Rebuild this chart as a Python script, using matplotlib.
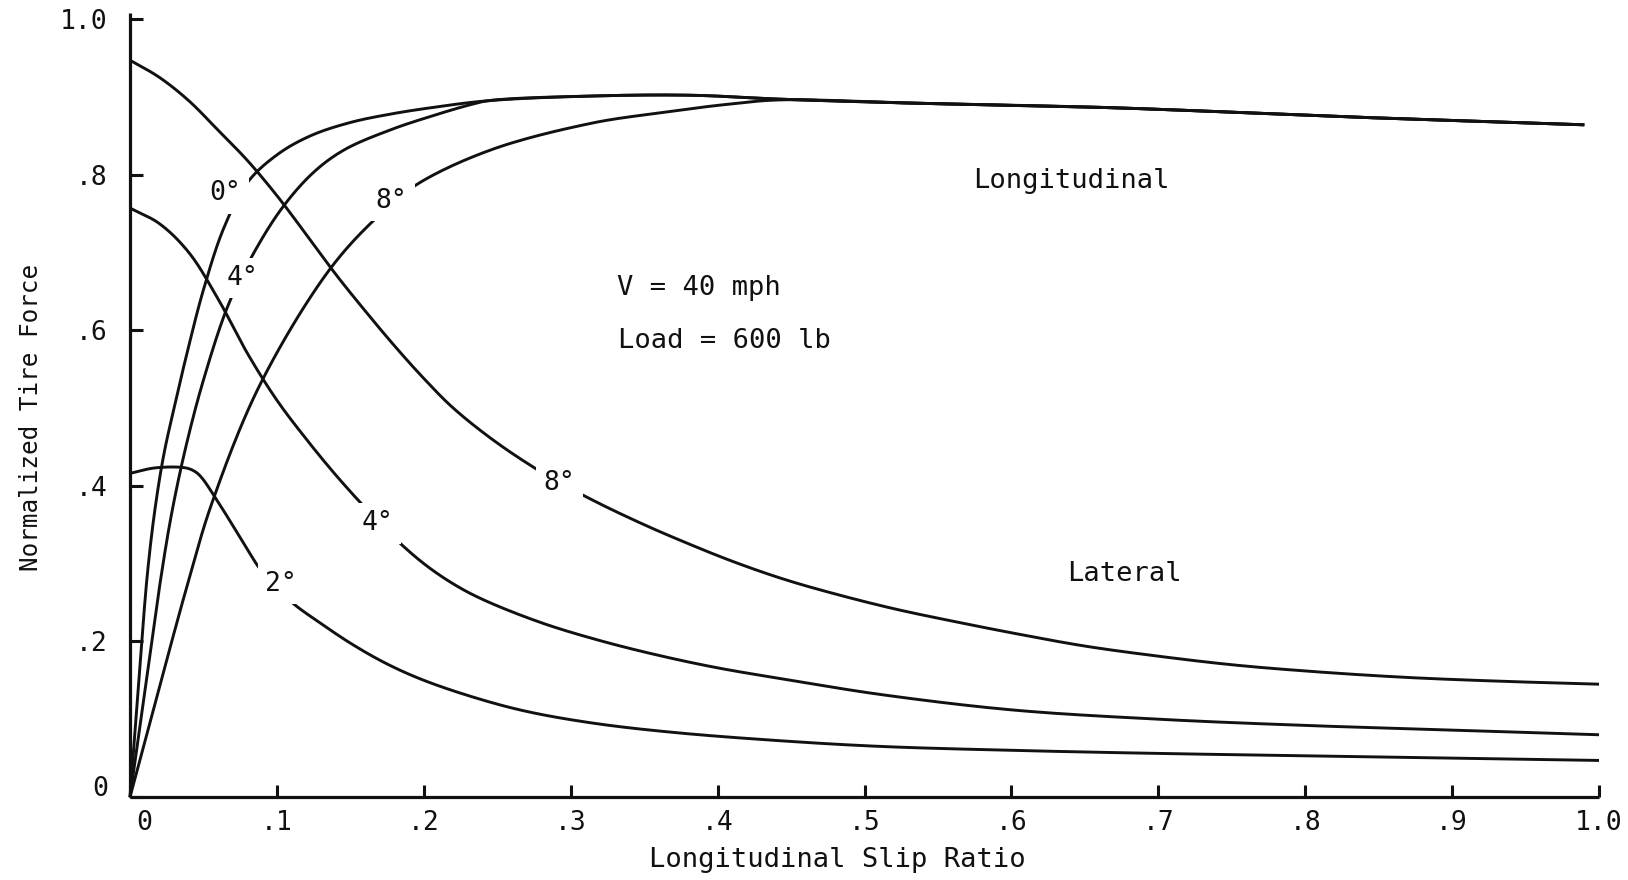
import numpy as np
import matplotlib
matplotlib.use("Agg")
import matplotlib.pyplot as plt
from matplotlib.transforms import ScaledTranslation

plt.rcParams["font.family"] = ["DejaVu Sans Mono"]

# ---- data: normalized tire force vs longitudinal slip ratio ----
x_ticks = [0.0, 0.1, 0.2, 0.3, 0.4, 0.5, 0.6, 0.7, 0.8, 0.9, 1.0]
x_tick_labels = ["0", ".1", ".2", ".3", ".4", ".5", ".6", ".7", ".8", ".9", "1.0"]
y_ticks = [0.0, 0.2, 0.4, 0.6, 0.8, 1.0]
y_tick_labels = ["0", ".2", ".4", ".6", ".8", "1.0"]

# Longitudinal force, slip angle 0 deg
long0_x = [0.0, 0.004, 0.008, 0.012, 0.017, 0.023, 0.030, 0.039, 0.050, 0.064, 0.080,
           0.1005, 0.123, 0.150, 0.178, 0.205, 0.244, 0.314, 0.382, 0.442, 0.53,
           0.668, 0.832, 0.99]
long0_y = [0.0, 0.10, 0.20, 0.29, 0.37, 0.44, 0.50, 0.572, 0.652, 0.732, 0.790,
           0.826, 0.850, 0.867, 0.878, 0.886, 0.895, 0.901, 0.902, 0.897, 0.892,
           0.886, 0.874, 0.864]

# Longitudinal force, slip angle 4 deg
long4_x = [0.0, 0.0104, 0.0208, 0.0284, 0.038, 0.050, 0.0668, 0.083, 0.1035, 0.125,
           0.146, 0.178, 0.205, 0.230, 0.244, 0.314, 0.382, 0.442, 0.53, 0.668,
           0.832, 0.99]
long4_y = [0.0, 0.14, 0.279, 0.365, 0.45, 0.536, 0.632, 0.695, 0.757, 0.803,
           0.832, 0.858, 0.875, 0.889, 0.895, 0.901, 0.902, 0.897, 0.892, 0.886,
           0.874, 0.864]

# Longitudinal force, slip angle 8 deg
long8_x = [0.0, 0.04, 0.0558, 0.0885, 0.1355, 0.168, 0.195, 0.246, 0.314, 0.359,
           0.405, 0.442, 0.53, 0.668, 0.832, 0.99]
long8_y = [0.0, 0.279, 0.378, 0.53, 0.677, 0.745, 0.787, 0.832, 0.866, 0.879,
           0.890, 0.896, 0.892, 0.886, 0.874, 0.864]

# Lateral force, slip angle 8 deg
lat8_x = [0.0, 0.02, 0.04, 0.06, 0.08, 0.10, 0.12, 0.14, 0.16, 0.18, 0.20, 0.22,
          0.25, 0.285, 0.3166, 0.35, 0.377, 0.41, 0.445, 0.48, 0.52, 0.56, 0.603,
          0.65, 0.70, 0.75, 0.80, 0.866, 0.93, 1.0]
lat8_y = [0.947, 0.925, 0.895, 0.857, 0.818, 0.773, 0.723, 0.672, 0.625, 0.580,
          0.538, 0.500, 0.455, 0.412, 0.380, 0.350, 0.328, 0.303, 0.280, 0.261,
          0.242, 0.226, 0.210, 0.194, 0.181, 0.170, 0.162, 0.154, 0.149, 0.145]

# Lateral force, slip angle 4 deg
lat4_x = [0.0, 0.02, 0.04, 0.06, 0.08, 0.10, 0.12, 0.14, 0.16, 0.18, 0.20, 0.22,
          0.24, 0.28, 0.32, 0.36, 0.40, 0.45, 0.51, 0.60, 0.70, 0.80, 0.90, 1.0]
lat4_y = [0.757, 0.737, 0.700, 0.640, 0.570, 0.510, 0.460, 0.414, 0.372, 0.333,
          0.300, 0.274, 0.254, 0.224, 0.201, 0.182, 0.166, 0.150, 0.132, 0.112,
          0.100, 0.092, 0.086, 0.080]

# Lateral force, slip angle 2 deg
lat2_x = [0.0, 0.017, 0.038, 0.0445, 0.049, 0.058, 0.069, 0.080, 0.089, 0.1097,
          0.13, 0.1515, 0.175, 0.20, 0.236, 0.27, 0.315, 0.37, 0.445, 0.511, 0.60,
          0.70, 0.80, 0.90, 1.0]
lat2_y = [0.416, 0.423, 0.423, 0.418, 0.410, 0.385, 0.352, 0.318, 0.292, 0.251,
          0.223, 0.196, 0.171, 0.150, 0.127, 0.110, 0.095, 0.083, 0.072, 0.065,
          0.060, 0.056, 0.053, 0.050, 0.047]

# curve labels: (text, x, y)
curve_labels = [
    ("0°", 0.065, 0.776),
    ("4°", 0.0767, 0.667),
    ("8°", 0.178, 0.766),
    ("8°", 0.2922, 0.404),
    ("4°", 0.1685, 0.352),
    ("2°", 0.103, 0.274),
]

# ---- figure ----
W, H = 1628, 880
fig = plt.figure(figsize=(W / 100, H / 100), dpi=100)
fig.patch.set_facecolor("white")
ax_left, ax_right, ax_bottom, ax_top = 130, 1599, 797, 13
unit_y = 778.0
ax = fig.add_axes([ax_left / W, 1 - ax_bottom / H,
                   (ax_right - ax_left) / W, (ax_bottom - ax_top) / H])
ax.set_xlim(0, 1.0)
ax.set_ylim(0, (ax_bottom - ax_top) / unit_y)
sx, sy = float(ax_right - ax_left), unit_y


def smooth(xs, ys, n=24):
    """Centripetal Catmull-Rom curve through the points (in pixel-like space)."""
    p = np.column_stack([np.asarray(xs) * sx, np.asarray(ys) * sy])
    p = np.vstack([2 * p[0] - p[1], p, 2 * p[-1] - p[-2]])
    out = []
    for i in range(1, len(p) - 2):
        p0, p1, p2, p3 = p[i - 1], p[i], p[i + 1], p[i + 2]
        t0 = 0.0
        t1 = t0 + np.linalg.norm(p1 - p0) ** 0.5 + 1e-9
        t2 = t1 + np.linalg.norm(p2 - p1) ** 0.5 + 1e-9
        t3 = t2 + np.linalg.norm(p3 - p2) ** 0.5 + 1e-9
        t = np.linspace(t1, t2, n)[:, None]
        a1 = (t1 - t) / (t1 - t0) * p0 + (t - t0) / (t1 - t0) * p1
        a2 = (t2 - t) / (t2 - t1) * p1 + (t - t1) / (t2 - t1) * p2
        a3 = (t3 - t) / (t3 - t2) * p2 + (t - t2) / (t3 - t2) * p3
        b1 = (t2 - t) / (t2 - t0) * a1 + (t - t0) / (t2 - t0) * a2
        b2 = (t3 - t) / (t3 - t1) * a2 + (t - t1) / (t3 - t1) * a3
        c = (t2 - t) / (t2 - t1) * b1 + (t - t1) / (t2 - t1) * b2
        out.append(c if i == 1 else c[1:])
    c = np.vstack(out)
    return c[:, 0] / sx, c[:, 1] / sy


ink = "#111111"
for xs, ys in [(long0_x, long0_y), (long4_x, long4_y), (long8_x, long8_y),
               (lat8_x, lat8_y), (lat4_x, lat4_y), (lat2_x, lat2_y)]:
    cx, cy = smooth(xs, ys)
    ax.plot(cx, cy, color=ink, lw=2.1, solid_capstyle="butt", clip_on=False, zorder=2)

for txt, lx, ly in curve_labels:
    ax.text(lx, ly, txt, fontsize=19, ha="center", va="center", color=ink, zorder=4,
            bbox=dict(boxstyle="square,pad=0.28", fc="white", ec="none"))

# annotations
ax.text(0.641, 0.792, "Longitudinal", fontsize=19.5, ha="center", va="center", color=ink)
ax.text(0.677, 0.287, "Lateral", fontsize=19.5, ha="center", va="center", color=ink)
ax.text(0.3315, 0.654, "V = 40 mph", fontsize=19.5, ha="left", va="center", color=ink)
ax.text(0.332, 0.586, "Load = 600 lb", fontsize=19.5, ha="left", va="center", color=ink)

# axes styling
for side in ("top", "right"):
    ax.spines[side].set_visible(False)
for side in ("left", "bottom"):
    ax.spines[side].set_linewidth(2.3)
    ax.spines[side].set_color(ink)
    ax.spines[side].set_capstyle("butt")

ax.set_xticks(x_ticks)
ax.set_xticklabels(x_tick_labels)
ax.set_yticks(y_ticks)
ax.set_yticklabels(y_tick_labels)
ax.tick_params(axis="both", direction="in", length=9, width=2.2, colors=ink,
               labelsize=19)
ax.tick_params(axis="x", pad=9)
ax.tick_params(axis="y", pad=16)

# the zero labels sit slightly off their ticks
xl0 = ax.get_xticklabels()[0]
xl0.set_transform(xl0.get_transform() + ScaledTranslation(10 / 72, 0, fig.dpi_scale_trans))
yl0 = ax.get_yticklabels()[0]
yl0.set_transform(yl0.get_transform() + ScaledTranslation(0, 8 / 72, fig.dpi_scale_trans))

fig.text(31 / W, 1 - 417 / H, "Normalized Tire Force", rotation=90, fontsize=17.5,
         ha="center", va="center", color=ink)
fig.text(837 / W, 1 - 860 / H, "Longitudinal Slip Ratio", fontsize=19.5,
         ha="center", va="center", color=ink)

fig.savefig("out.png", dpi=100, facecolor="white")
